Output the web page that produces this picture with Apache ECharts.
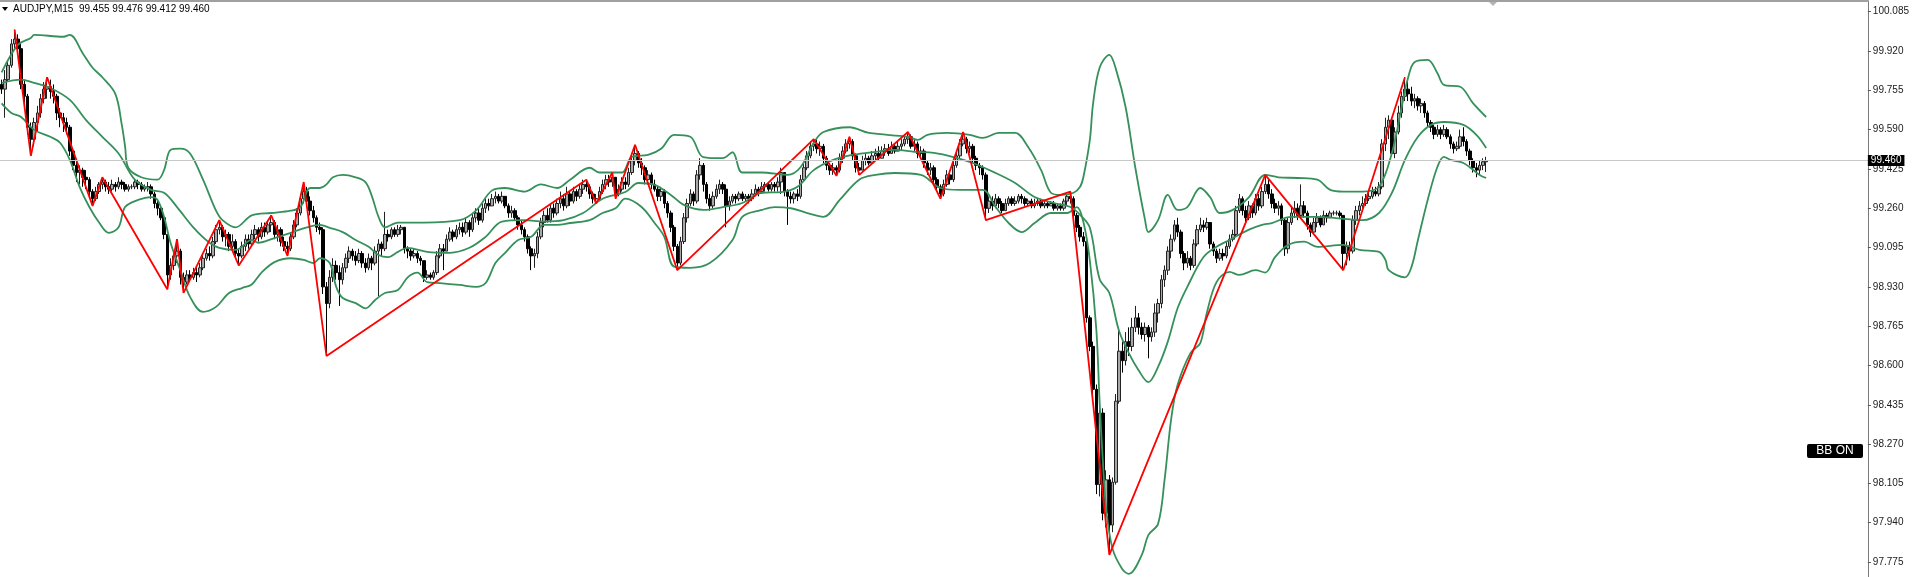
<!DOCTYPE html>
<html><head><meta charset="utf-8">
<script src="https://cdn.jsdelivr.net/npm/echarts@6/dist/echarts.min.js"></script>
<style>html,body{margin:0;padding:0;background:#fff;overflow:hidden}#c{width:1912px;height:577px}</style>
</head><body><div id="c"></div>
<script>
// ---- data ----
const symbolName = 'AUDJPY,M15';
const lastBar = { open: 99.455, high: 99.476, low: 99.412, close: 99.460 };
const firstOpen = 99.78;
const closes = [
99.76,99.80,99.86,99.95,99.97,99.93,99.78,99.73,99.60,99.55,
99.62,99.66,99.72,99.76,99.77,99.75,99.73,99.66,99.64,99.62,
99.60,99.50,99.44,99.41,99.42,99.39,99.38,99.33,99.30,99.33,
99.36,99.37,99.35,99.34,99.36,99.35,99.37,99.36,99.34,99.35,
99.35,99.37,99.36,99.34,99.35,99.35,99.32,99.28,99.26,99.22,
99.15,98.98,99.02,99.06,99.08,98.97,98.95,98.98,98.97,98.99,
98.98,99.01,99.05,99.07,99.06,99.12,99.17,99.18,99.14,99.15,
99.10,99.12,99.07,99.06,99.10,99.13,99.11,99.15,99.17,99.14,
99.18,99.16,99.19,99.20,99.15,99.17,99.12,99.10,99.09,99.14,
99.19,99.24,99.30,99.33,99.29,99.25,99.22,99.18,99.17,98.93,
98.86,98.97,99.02,98.99,98.96,99.01,99.05,99.08,99.06,99.04,
99.07,99.03,99.01,99.05,99.03,99.08,99.11,99.09,99.15,99.14,
99.17,99.15,99.17,99.18,99.09,99.08,99.06,99.07,99.05,99.04,
98.97,98.98,98.97,98.99,99.06,99.09,99.08,99.13,99.16,99.14,
99.17,99.18,99.16,99.20,99.17,99.22,99.24,99.21,99.26,99.28,
99.27,99.30,99.31,99.29,99.31,99.27,99.24,99.25,99.22,99.19,
99.17,99.14,99.09,99.06,99.07,99.14,99.20,99.23,99.21,99.26,
99.24,99.28,99.30,99.27,99.32,99.29,99.33,99.31,99.34,99.36,
99.35,99.32,99.30,99.30,99.33,99.36,99.38,99.37,99.39,99.32,
99.34,99.37,99.36,99.41,99.46,99.49,99.45,99.43,99.38,99.40,
99.36,99.34,99.31,99.33,99.28,99.24,99.18,99.10,99.03,99.12,
99.22,99.28,99.32,99.29,99.40,99.44,99.36,99.30,99.27,99.31,
99.34,99.36,99.34,99.27,99.29,99.31,99.30,99.32,99.30,99.31,
99.30,99.32,99.34,99.33,99.35,99.36,99.34,99.36,99.35,99.37,
99.41,99.33,99.31,99.30,99.32,99.31,99.38,99.43,99.48,99.52,
99.53,99.51,99.52,99.47,99.44,99.42,99.43,99.42,99.47,99.50,
99.53,99.54,99.48,99.43,99.42,99.46,99.47,99.45,99.48,99.49,
99.47,99.50,99.51,99.49,99.52,99.50,99.52,99.53,99.55,99.56,
99.52,99.53,99.49,99.50,99.45,99.42,99.43,99.38,99.35,99.32,
99.36,99.40,99.38,99.44,99.48,99.53,99.55,99.51,99.52,99.47,
99.44,99.43,99.40,99.26,99.29,99.27,99.30,99.28,99.25,99.28,
99.30,99.28,99.29,99.31,99.30,99.28,99.29,99.27,99.28,99.29,
99.27,99.28,99.27,99.28,99.26,99.27,99.26,99.29,99.31,99.30,
99.23,99.18,99.14,99.12,98.80,98.68,98.50,98.10,98.40,97.98,
98.12,97.93,98.11,98.45,98.66,98.62,98.70,98.68,98.76,98.80,
98.76,98.73,98.76,98.72,98.74,98.82,98.86,98.96,99.00,99.08,
99.13,99.19,99.16,99.07,99.03,99.05,99.02,99.11,99.17,99.19,
99.18,99.20,99.11,99.08,99.05,99.07,99.06,99.10,99.13,99.15,
99.25,99.30,99.25,99.22,99.27,99.24,99.30,99.27,99.33,99.36,
99.32,99.28,99.26,99.27,99.21,99.09,99.20,99.24,99.26,99.23,
99.27,99.24,99.19,99.16,99.20,99.22,99.19,99.23,99.22,99.24,
99.24,99.24,99.23,99.07,99.10,99.08,99.21,99.25,99.27,99.28,
99.30,99.31,99.33,99.32,99.35,99.53,99.60,99.63,99.49,99.58,
99.66,99.73,99.76,99.74,99.71,99.72,99.69,99.70,99.66,99.62,
99.60,99.57,99.59,99.57,99.59,99.56,99.53,99.51,99.52,99.56,
99.54,99.50,99.46,99.43,99.42,99.44,99.455,99.46
];
const highs = [
99.80,99.84,99.88,99.97,100.01,99.99,99.95,99.80,99.74,99.62,
99.64,99.69,99.74,99.79,99.81,99.80,99.78,99.74,99.68,99.66,
99.64,99.61,99.51,99.46,99.44,99.43,99.42,99.39,99.34,99.35,
99.37,99.39,99.38,99.37,99.38,99.37,99.39,99.38,99.37,99.36,
99.36,99.38,99.38,99.37,99.36,99.37,99.36,99.33,99.29,99.27,
99.23,99.15,99.05,99.08,99.13,99.09,98.99,99.00,99.00,99.01,
99.01,99.03,99.07,99.09,99.10,99.14,99.19,99.21,99.19,99.17,
99.16,99.15,99.13,99.09,99.12,99.15,99.15,99.17,99.19,99.18,
99.20,99.20,99.21,99.23,99.21,99.19,99.18,99.14,99.12,99.16,
99.21,99.26,99.32,99.37,99.35,99.31,99.27,99.23,99.20,99.18,
98.95,99.00,99.05,99.04,99.02,99.03,99.07,99.10,99.09,99.08,
99.09,99.08,99.05,99.07,99.06,99.10,99.13,99.12,99.245,99.17,
99.18,99.18,99.19,99.19,99.18,99.10,99.09,99.09,99.08,99.06,
99.04,99.00,98.99,99.00,99.08,99.11,99.11,99.15,99.18,99.17,
99.19,99.20,99.20,99.22,99.21,99.24,99.26,99.26,99.28,99.30,
99.30,99.32,99.33,99.32,99.33,99.31,99.28,99.27,99.26,99.23,
99.21,99.18,99.15,99.10,99.09,99.16,99.22,99.25,99.26,99.28,
99.28,99.30,99.33,99.32,99.35,99.33,99.35,99.34,99.36,99.38,
99.38,99.36,99.33,99.32,99.35,99.38,99.40,99.40,99.41,99.39,
99.36,99.39,99.39,99.43,99.48,99.526,99.50,99.47,99.44,99.42,
99.41,99.38,99.35,99.35,99.34,99.29,99.25,99.19,99.11,99.14,
99.24,99.30,99.34,99.33,99.42,99.47,99.45,99.37,99.32,99.33,
99.36,99.38,99.37,99.36,99.31,99.32,99.32,99.33,99.33,99.32,
99.32,99.34,99.36,99.35,99.37,99.37,99.37,99.37,99.37,99.39,
99.43,99.41,99.34,99.33,99.33,99.34,99.40,99.45,99.50,99.54,
99.55,99.55,99.54,99.53,99.48,99.45,99.45,99.44,99.49,99.52,
99.55,99.56,99.55,99.49,99.45,99.48,99.49,99.48,99.50,99.51,
99.52,99.52,99.53,99.53,99.54,99.53,99.54,99.55,99.57,99.58,
99.57,99.55,99.54,99.52,99.51,99.46,99.45,99.44,99.39,99.36,
99.38,99.42,99.42,99.46,99.50,99.55,99.58,99.56,99.54,99.53,
99.48,99.45,99.44,99.41,99.31,99.31,99.32,99.31,99.29,99.30,
99.31,99.31,99.31,99.32,99.32,99.31,99.30,99.30,99.30,99.30,
99.30,99.29,99.29,99.29,99.29,99.28,99.28,99.30,99.32,99.33,
99.31,99.24,99.19,99.16,99.12,98.81,98.70,98.52,98.42,98.42,
98.16,98.14,98.13,98.48,98.75,98.70,98.74,98.76,98.80,98.85,
98.82,98.78,98.78,98.77,98.76,98.86,98.88,98.98,99.02,99.10,
99.15,99.21,99.22,99.17,99.08,99.08,99.06,99.13,99.19,99.22,
99.21,99.22,99.20,99.12,99.09,99.09,99.09,99.12,99.15,99.17,
99.27,99.32,99.31,99.27,99.29,99.28,99.32,99.32,99.35,99.40,
99.38,99.34,99.30,99.29,99.28,99.22,99.22,99.27,99.29,99.28,
99.36,99.29,99.25,99.20,99.22,99.24,99.23,99.25,99.24,99.25,
99.25,99.25,99.25,99.23,99.12,99.12,99.23,99.27,99.29,99.31,
99.32,99.33,99.35,99.35,99.37,99.55,99.64,99.65,99.64,99.60,
99.69,99.75,99.81,99.79,99.77,99.74,99.73,99.72,99.71,99.67,
99.63,99.61,99.61,99.60,99.61,99.60,99.57,99.54,99.54,99.59,
99.60,99.55,99.51,99.47,99.45,99.46,99.47,99.476
];
const lows = [
99.74,99.64,99.79,99.85,99.93,99.91,99.76,99.70,99.57,99.48,
99.52,99.58,99.64,99.70,99.72,99.72,99.70,99.63,99.60,99.58,
99.57,99.48,99.42,99.37,99.36,99.35,99.34,99.31,99.27,99.29,
99.32,99.34,99.33,99.32,99.33,99.33,99.34,99.34,99.33,99.33,
99.34,99.34,99.34,99.33,99.33,99.33,99.30,99.26,99.23,99.21,
99.13,98.92,98.96,99.00,99.03,98.94,98.905,98.94,98.95,98.96,
98.95,98.97,99.00,99.04,99.04,99.05,99.11,99.15,99.12,99.10,
99.08,99.09,99.05,99.02,99.05,99.08,99.09,99.10,99.13,99.12,
99.13,99.14,99.15,99.16,99.13,99.12,99.10,99.08,99.06,99.08,
99.13,99.18,99.23,99.28,99.27,99.23,99.20,99.16,99.15,98.90,
98.64,98.84,98.95,98.96,98.85,98.94,98.99,99.03,99.04,99.02,
99.03,99.01,98.99,99.00,99.00,99.02,98.89,99.06,99.08,99.12,
99.13,99.14,99.14,99.15,99.07,99.05,99.04,99.05,99.03,99.02,
98.95,98.96,98.96,98.96,98.98,99.05,99.00,99.08,99.12,99.12,
99.13,99.15,99.14,99.15,99.14,99.16,99.20,99.19,99.20,99.24,
99.25,99.27,99.28,99.28,99.28,99.26,99.22,99.22,99.21,99.17,
99.15,99.12,99.07,99.00,99.01,99.05,99.13,99.18,99.20,99.20,
99.22,99.23,99.26,99.25,99.26,99.27,99.28,99.29,99.30,99.32,
99.33,99.30,99.28,99.28,99.29,99.32,99.34,99.35,99.35,99.30,
99.31,99.33,99.34,99.35,99.40,99.44,99.43,99.40,99.36,99.36,
99.34,99.33,99.29,99.29,99.26,99.22,99.16,99.08,99.00,99.02,
99.11,99.20,99.27,99.27,99.28,99.38,99.33,99.28,99.25,99.26,
99.30,99.32,99.32,99.18,99.25,99.28,99.28,99.29,99.29,99.29,
99.28,99.29,99.31,99.31,99.32,99.33,99.33,99.33,99.33,99.33,
99.32,99.31,99.19,99.28,99.28,99.29,99.30,99.37,99.42,99.47,
99.50,99.49,99.48,99.45,99.42,99.40,99.40,99.396,99.41,99.45,
99.49,99.51,99.46,99.41,99.40,99.42,99.44,99.44,99.45,99.46,
99.46,99.47,99.48,99.48,99.49,99.49,99.50,99.50,99.52,99.53,
99.51,99.50,99.47,99.47,99.43,99.40,99.40,99.36,99.33,99.30,
99.31,99.35,99.36,99.37,99.43,99.47,99.52,99.49,99.49,99.45,
99.42,99.40,99.38,99.21,99.24,99.25,99.26,99.26,99.24,99.25,
99.27,99.27,99.27,99.28,99.28,99.27,99.27,99.26,99.26,99.27,
99.26,99.26,99.26,99.27,99.25,99.25,99.25,99.25,99.27,99.28,
99.21,99.16,99.12,99.10,98.78,98.66,98.45,98.06,98.05,97.95,
97.92,97.805,97.90,98.10,98.44,98.57,98.60,98.64,98.66,98.74,
98.73,98.71,98.70,98.63,98.70,98.72,98.78,98.84,98.93,98.98,
99.05,99.12,99.14,99.05,99.00,99.01,99.00,99.01,99.10,99.16,
99.16,99.17,99.09,99.06,99.03,99.04,99.04,99.05,99.09,99.12,
99.14,99.24,99.23,99.20,99.21,99.22,99.23,99.25,99.26,99.32,
99.30,99.26,99.24,99.23,99.19,99.06,99.07,99.19,99.22,99.21,
99.22,99.22,99.17,99.14,99.15,99.18,99.18,99.19,99.20,99.22,
99.23,99.23,99.22,99.00,99.02,99.04,99.07,99.19,99.23,99.25,
99.27,99.29,99.30,99.31,99.31,99.34,99.50,99.55,99.48,99.47,
99.57,99.64,99.71,99.71,99.69,99.68,99.67,99.66,99.64,99.60,
99.58,99.55,99.56,99.55,99.56,99.55,99.51,99.49,99.50,99.51,
99.52,99.48,99.44,99.41,99.39,99.40,99.42,99.412
];
// Bollinger bands, read at sample bars: [bar index, price]
const upperBand = [[0,99.83],[5,99.946],[9,99.975],[10,99.988],[19,99.98],[21,99.988],[25,99.91],[28,99.85],[31,99.81],[35,99.74],[37,99.61],[38,99.52],[39,99.43],[43,99.39],[48,99.38],[50,99.42],[52,99.505],[55,99.51],[58,99.49],[62,99.38],[66,99.25],[68,99.21],[72,99.18],[77,99.23],[83,99.24],[89,99.25],[92,99.265],[95,99.345],[98,99.345],[100,99.36],[102,99.39],[105,99.40],[109,99.39],[112,99.37],[114,99.31],[116,99.225],[118,99.18],[122,99.20],[130,99.20],[141,99.21],[146,99.25],[151,99.335],[155,99.345],[161,99.33],[166,99.36],[171,99.345],[175,99.38],[181,99.43],[184,99.41],[188,99.41],[191,99.41],[194,99.475],[199,99.484],[203,99.51],[207,99.568],[212,99.56],[216,99.475],[222,99.47],[225,99.495],[228,99.41],[234,99.41],[242,99.40],[246,99.433],[250,99.535],[253,99.58],[261,99.60],[267,99.576],[279,99.56],[282,99.547],[285,99.568],[291,99.576],[298,99.568],[302,99.555],[307,99.576],[312,99.576],[316,99.517],[320,99.42],[323,99.325],[326,99.316],[330,99.325],[332,99.35],[333,99.39],[335,99.547],[336,99.70],[338,99.85],[341,99.904],[343,99.845],[346,99.685],[349,99.43],[352,99.21],[353,99.16],[356,99.21],[359,99.316],[362,99.253],[365,99.265],[369,99.345],[372,99.307],[375,99.24],[379,99.253],[384,99.307],[389,99.40],[393,99.39],[399,99.387],[405,99.38],[409,99.337],[413,99.33],[419,99.33],[424,99.35],[428,99.493],[431,99.685],[433,99.81],[435,99.874],[439,99.883],[442,99.827],[444,99.778],[449,99.77],[453,99.70],[457,99.643]];
const middleBand = [[0,99.786],[6,99.80],[10,99.786],[15,99.765],[21,99.715],[26,99.63],[31,99.56],[36,99.49],[41,99.38],[46,99.337],[50,99.325],[54,99.265],[59,99.18],[64,99.115],[67,99.094],[72,99.085],[77,99.127],[79,99.115],[84,99.135],[89,99.157],[94,99.18],[98,99.19],[101,99.178],[105,99.16],[109,99.127],[113,99.098],[116,99.064],[119,99.055],[122,99.077],[125,99.094],[131,99.077],[138,99.073],[144,99.094],[149,99.14],[154,99.204],[161,99.21],[167,99.204],[173,99.21],[179,99.24],[185,99.30],[192,99.328],[196,99.366],[201,99.358],[206,99.316],[210,99.274],[216,99.253],[222,99.265],[228,99.282],[234,99.325],[240,99.328],[245,99.35],[250,99.42],[256,99.463],[262,99.484],[269,99.497],[275,99.505],[281,99.497],[287,99.492],[293,99.475],[299,99.45],[306,99.408],[312,99.366],[318,99.307],[324,99.282],[329,99.265],[332,99.232],[335,99.178],[338,98.963],[341,98.904],[344,98.745],[347,98.652],[350,98.58],[353,98.53],[356,98.594],[359,98.70],[362,98.84],[365,98.93],[370,99.055],[374,99.098],[378,99.127],[384,99.17],[388,99.19],[391,99.198],[397,99.224],[405,99.224],[410,99.22],[419,99.21],[424,99.24],[428,99.325],[432,99.463],[436,99.56],[440,99.61],[444,99.622],[450,99.61],[454,99.568],[457,99.513]];
const lowerBand = [[0,99.70],[3,99.66],[6,99.643],[10,99.589],[15,99.56],[18,99.535],[21,99.463],[24,99.35],[27,99.265],[30,99.20],[33,99.157],[36,99.18],[38,99.265],[42,99.295],[46,99.307],[48,99.295],[50,99.224],[52,99.115],[55,99.00],[58,98.888],[62,98.825],[66,98.846],[70,98.904],[74,98.925],[77,98.94],[80,98.99],[84,99.034],[89,99.05],[93,99.043],[96,99.03],[98,99.05],[101,99.03],[103,98.93],[105,98.883],[109,98.862],[112,98.84],[115,98.875],[118,98.904],[122,98.917],[125,98.97],[128,98.99],[131,98.95],[135,98.946],[141,98.938],[146,98.93],[149,98.946],[152,99.03],[155,99.073],[159,99.127],[163,99.14],[167,99.19],[171,99.19],[175,99.198],[181,99.21],[185,99.24],[189,99.26],[192,99.30],[197,99.265],[201,99.198],[204,99.14],[207,99.015],[212,99.01],[218,99.03],[225,99.127],[228,99.224],[234,99.253],[238,99.265],[243,99.26],[248,99.24],[253,99.224],[258,99.295],[264,99.38],[269,99.40],[275,99.408],[283,99.40],[289,99.345],[295,99.337],[302,99.337],[306,99.265],[310,99.198],[314,99.16],[318,99.198],[323,99.24],[328,99.24],[331,99.265],[333,99.203],[335,99.04],[337,98.75],[338,98.45],[339,98.20],[340,98.00],[342,97.83],[345,97.745],[347,97.725],[351,97.805],[353,97.888],[356,97.935],[358,98.12],[360,98.372],[362,98.518],[366,98.653],[369,98.694],[371,98.82],[374,98.95],[378,98.993],[381,98.98],[386,99.00],[389,98.99],[392,99.055],[396,99.106],[401,99.12],[405,99.098],[413,99.106],[418,99.085],[424,99.077],[426,99.043],[427,99.00],[432,98.97],[434,99.013],[436,99.127],[439,99.295],[442,99.434],[444,99.476],[446,99.463],[450,99.45],[455,99.40],[457,99.387]];
// ZigZag swing points: [bar index, price]
const zigzag = [[4,100.01],[9,99.48],[14,99.81],[28,99.27],[31,99.39],[51,98.92],[54,99.13],[56,98.905],[67,99.21],[73,99.02],[83,99.23],[88,99.06],[93,99.37],[100,98.64],[180,99.38],[183,99.28],[188,99.41],[189,99.30],[195,99.526],[208,99.00],[250,99.55],[257,99.396],[261,99.56],[264,99.40],[279,99.58],[289,99.30],[296,99.58],[303,99.21],[329,99.33],[341,97.805],[389,99.40],[413,99.00],[432,99.81]];
const priceTicks = [97.775,97.940,98.105,98.270,98.435,98.600,98.765,98.930,99.095,99.260,99.425,99.590,99.755,99.920,100.085];
const totalSlots = 575; // bars + empty right shift area
const yMin = 97.712, yMax = 100.130;

// ---- build ----
const categories = Array.from({ length: totalSlots }, (_, i) => String(i));
const ohlc = closes.map((c, i) => [i === 0 ? firstOpen : closes[i - 1], c, lows[i], highs[i]]);
const headerText = symbolName + '  ' + [lastBar.open, lastBar.high, lastBar.low, lastBar.close].map(v => v.toFixed(3)).join(' ');

const chart = echarts.init(document.getElementById('c'), null, { renderer: 'canvas' });
const bandStyle = { color: '#35905a', width: 1.8 };
chart.setOption({
  animation: false,
  backgroundColor: '#ffffff',
  textStyle: { fontFamily: 'Liberation Sans' },
  grid: { left: 0, right: 43, top: 1, bottom: 0 },
  xAxis: {
    type: 'category', data: categories, position: 'top', boundaryGap: true,
    axisLine: { show: true, onZero: false, lineStyle: { color: '#a0a0a0', width: 2 } },
    axisTick: { show: false }, axisLabel: { show: false }, splitLine: { show: false }
  },
  yAxis: {
    type: 'value', position: 'right', min: yMin, max: yMax, scale: true,
    splitLine: { show: false },
    axisLine: { show: true, lineStyle: { color: '#7a7a7a', width: 1 } },
    axisTick: { show: true, length: 3, customValues: priceTicks, lineStyle: { color: '#555' } },
    axisLabel: { show: true, customValues: priceTicks, formatter: v => v.toFixed(3), color: '#1a1a1a', fontSize: 10, margin: 5, fontFamily: 'Liberation Sans' }
  },
  series: [
    {
      type: 'candlestick', data: ohlc, barWidth: 3, z: 2,
      itemStyle: { color: '#a8a8a8', color0: '#000000', borderColor: '#222222', borderColor0: '#000000', borderWidth: 1 },
      markLine: {
        silent: true, symbol: 'none', animation: false,
        data: [{ yAxis: lastBar.close }],
        lineStyle: { color: '#c8c8c8', type: 'solid', width: 1 },
        label: { show: true, position: 'end', distance: 0, formatter: p => Number(p.value).toFixed(3), backgroundColor: '#000', color: '#fff', padding: [1, 3, 0, 3], fontSize: 10, fontFamily: 'Liberation Sans' }
      }
    },
    { type: 'line', data: upperBand, smooth: 0.35, showSymbol: false, silent: true, lineStyle: bandStyle, z: 3 },
    { type: 'line', data: middleBand, smooth: 0.35, showSymbol: false, silent: true, lineStyle: bandStyle, z: 3 },
    { type: 'line', data: lowerBand, smooth: 0.35, showSymbol: false, silent: true, lineStyle: bandStyle, z: 3 },
    { type: 'line', data: zigzag, smooth: false, showSymbol: false, silent: true, lineStyle: { color: '#ff0000', width: 1.8 }, z: 4 }
  ],
  graphic: [
    { type: 'polygon', shape: { points: [[2, 7], [8, 7], [5, 11]] }, style: { fill: '#000' }, silent: true },
    { type: 'text', left: 13, top: 4, style: { text: headerText, font: '10px "Liberation Sans"', fill: '#000' }, silent: true },
    { type: 'polygon', shape: { points: [[1488, 1], [1498, 1], [1493, 6]] }, style: { fill: '#b4b4b4' }, silent: true },
    {
      type: 'group', left: 1807, top: 444, silent: true,
      children: [
        { type: 'rect', shape: { x: 0, y: 0, width: 56, height: 14, r: 2 }, style: { fill: '#000' } },
        { type: 'text', x: 28, y: 7, style: { text: 'BB ON', fill: '#fff', font: '12px "Liberation Sans"', align: 'center', verticalAlign: 'middle' } }
      ]
    }
  ]
});
</script>
</body></html>
